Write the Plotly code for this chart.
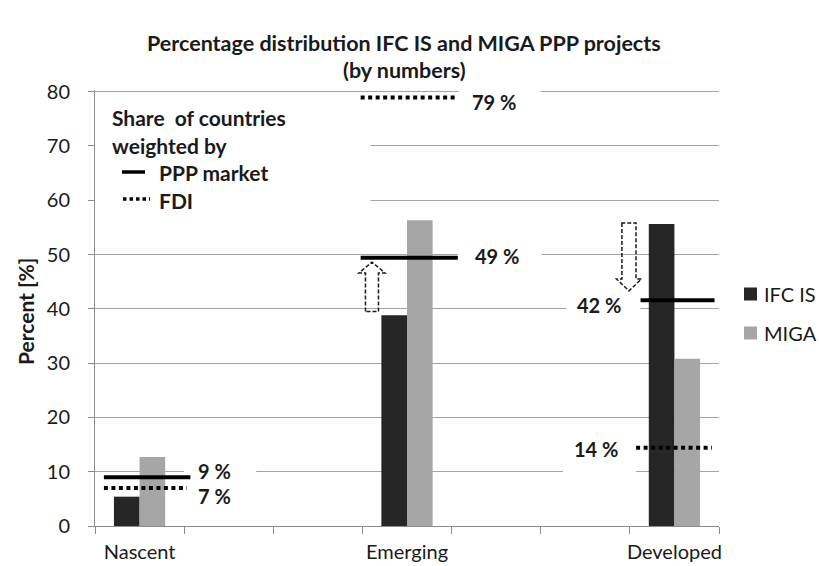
import plotly.graph_objects as go

# ---------------- data ----------------
categories = ["Nascent", " ", "  ", "Emerging", "   ", "    ", "Developed"]
groups = ["Nascent", "Emerging", "Developed"]
series_names = ["IFC IS", "MIGA"]
ifc_is = [5.4, 38.8, 55.6]
miga = [12.7, 56.3, 30.8]
ppp_market = [9.0, 49.4, 41.6]      # share weighted by PPP market (solid)
fdi = [7.0, 78.9, 14.4]             # share weighted by FDI (dotted)
ppp_labels = ["9 %", "49 %", "42 %"]
fdi_labels = ["7 %", "79 %", "14 %"]
colors = ["#262626", "#a6a6a6"]

FONT = "Lato"
TXT = "#1a1a1a"
L, R, T, B = 95, 100, 90, 40
W, H = 819, 566
PW, PH = W - L - R, H - T - B


def px(xp):
    return (xp - L) / PW


def py(yp):
    return (H - B - yp) / PH


fig = go.Figure()
for name, vals, col in zip(series_names, [ifc_is, miga], colors):
    fig.add_trace(go.Bar(x=groups, y=vals, name=name, marker_color=col, marker_line_width=0))

shapes = []
annotations = []
idx = [categories.index(g) for g in groups]

# reference line extents (category-index offsets)
solid_ext = [(-0.40, 0.57), (-0.52, 0.57), (-0.38, 0.45)]
dot_ext = [(-0.40, 0.53), (-0.52, 0.54), (-0.43, 0.42)]
for i, c in enumerate(idx):
    a, b = solid_ext[i]
    shapes.append(dict(type="line", xref="x", yref="y", x0=c + a, x1=c + b,
                       y0=ppp_market[i], y1=ppp_market[i],
                       line=dict(color="black", width=4), layer="above"))
    a, b = dot_ext[i]
    shapes.append(dict(type="line", xref="x", yref="y", x0=c + a, x1=c + b,
                       y0=fdi[i], y1=fdi[i],
                       line=dict(color="black", width=4, dash="4px,3.5px"), layer="above"))

# gridline masks (white, between grid and traces)
masks = [
    (idx[0] + 0.50, idx[0] + 1.31, 8.8, 11.2),
    (idx[2] - 1.25, idx[2] - 0.43, 8.8, 11.2),
    (idx[2] - 1.21, idx[2] - 0.38, 38.8, 41.2),
    (idx[1] + 0.57, idx[1] + 1.51, 48.8, 51.2),
    (idx[1] + 0.58, idx[1] + 1.50, 78.8, 81),
    (-0.5, 2.59, 57, 78),
]
for x0, x1, y0, y1 in masks:
    shapes.append(dict(type="rect", xref="x", yref="y", x0=x0, x1=x1, y0=y0, y1=y1,
                       fillcolor="white", line_width=0, layer="between"))


def arrow(cx, y_from, y_to, shaft_hw, head_hw, head_len):
    d = 1 if y_to > y_from else -1
    yb = y_to - d * head_len
    return (f"M {cx - shaft_hw} {y_from} L {cx - shaft_hw} {yb} L {cx - head_hw} {yb} "
            f"L {cx} {y_to} L {cx + head_hw} {yb} L {cx + shaft_hw} {yb} "
            f"L {cx + shaft_hw} {y_from} Z")


arrow_style = dict(color="#1a1a1a", width=1.5, dash="4px,2px")
shapes.append(dict(type="path", xref="x", yref="y",
                   path=arrow(idx[1] - 0.393, ifc_is[1] + 0.7, ppp_market[1] - 0.8, 0.073, 0.146, 2.0),
                   line=arrow_style, fillcolor="rgba(0,0,0,0)", layer="above"))
shapes.append(dict(type="path", xref="x", yref="y",
                   path=arrow(idx[2] - 0.51, ifc_is[2] + 0.2, ppp_market[2] + 1.7, 0.079, 0.14, 2.2),
                   line=arrow_style, fillcolor="rgba(0,0,0,0)", layer="above"))

# value labels
lab_font = dict(family=FONT, size=20, color=TXT)
ppp_lab_pos = [(0.634, "left", 6), (0.735, "left", 2), (-0.578, "right", -5)]
fdi_lab_pos = [(0.634, "left", -8), (0.712, "left", -4), (-0.611, "right", -1)]
for i, c in enumerate(idx):
    o, anc, ys = ppp_lab_pos[i]
    annotations.append(dict(x=c + o, y=ppp_market[i], xref="x", yref="y", text=f"<b>{ppp_labels[i]}</b>",
                            showarrow=False, xanchor=anc, yanchor="middle", yshift=ys, font=lab_font))
    o, anc, ys = fdi_lab_pos[i]
    annotations.append(dict(x=c + o, y=fdi[i], xref="x", yref="y", text=f"<b>{fdi_labels[i]}</b>",
                            showarrow=False, xanchor=anc, yanchor="middle", yshift=ys, font=lab_font))

# inner key box
box_font = dict(family=FONT, size=21, color=TXT)
for txt, xp, yp in [("Share  of countries", 110, 117), ("weighted by", 110, 145),
                    ("PPP market", 157, 172), ("FDI", 157, 200)]:
    annotations.append(dict(x=px(xp), y=py(yp), xref="paper", yref="paper", text=f"<b>{txt}</b>",
                            showarrow=False, xanchor="left", yanchor="middle", font=box_font))
shapes.append(dict(type="line", xref="paper", yref="paper", x0=px(122), x1=px(145), y0=py(172), y1=py(172),
                   line=dict(color="black", width=3.5), layer="above"))
shapes.append(dict(type="line", xref="paper", yref="paper", x0=px(123), x1=px(150), y0=py(199), y1=py(199),
                   line=dict(color="black", width=3.5, dash="3.5px,3px"), layer="above"))

# series key (right side)
for k, (name, col) in enumerate(zip(series_names, colors)):
    cy = 294 + 39 * k
    shapes.append(dict(type="rect", xref="paper", yref="paper", x0=px(744), x1=px(757),
                       y0=py(cy + 6.5), y1=py(cy - 6.5), fillcolor=col, line_width=0, layer="above"))
    annotations.append(dict(x=px(762), y=py(cy), xref="paper", yref="paper", text=name,
                            showarrow=False, xanchor="left", yanchor="middle",
                            font=dict(family=FONT, size=20, color=TXT)))

# titles
title_font = dict(family=FONT, size=21.5, color=TXT)
annotations.append(dict(x=px(404), y=py(43), xref="paper", yref="paper",
                        text="<b>Percentage distribution IFC IS and MIGA PPP projects</b>",
                        showarrow=False, xanchor="center", yanchor="middle", font=title_font))
annotations.append(dict(x=px(404), y=py(70), xref="paper", yref="paper", text="<b>(by numbers)</b>",
                        showarrow=False, xanchor="center", yanchor="middle", font=title_font))
annotations.append(dict(x=px(25), y=py(312), xref="paper", yref="paper", text="<b>Percent [%]</b>",
                        textangle=-90, showarrow=False, xanchor="center", yanchor="middle",
                        font=dict(family=FONT, size=21, color=TXT)))

fig.update_layout(
    width=W, height=H,
    margin=dict(l=L, r=R, t=T, b=B, autoexpand=False),
    paper_bgcolor="white", plot_bgcolor="white",
    barmode="group", bargap=0.425, bargroupgap=0,
    shapes=shapes, annotations=annotations,
    font=dict(family=FONT, size=20, color=TXT),
    showlegend=False,
)
fig.update_xaxes(type="category", categoryorder="array", categoryarray=categories,
                 range=[-0.5, 6.5], tickson="boundaries", ticks="outside", ticklen=7,
                 tickangle=0, automargin=False, ticklabelstandoff=8,
                 tickcolor="#8c8c8c", showline=True, linecolor="#8c8c8c", linewidth=1,
                 showgrid=False, tickfont=dict(family=FONT, size=20, color=TXT))
fig.update_yaxes(range=[0, 80.3], tick0=0, dtick=10, ticks="outside", ticklen=6, automargin=False,
                 tickcolor="#8c8c8c", showline=True, linecolor="#8c8c8c", linewidth=1,
                 showgrid=True, gridcolor="#a3a3a3", gridwidth=1, zeroline=False,
                 ticklabelstandoff=14, tickfont=dict(family=FONT, size=20, color=TXT))

fig.write_html("out.html", config={"displayModeBar": False},
               post_script="document.body.style.margin='0';document.body.style.padding='0';")
